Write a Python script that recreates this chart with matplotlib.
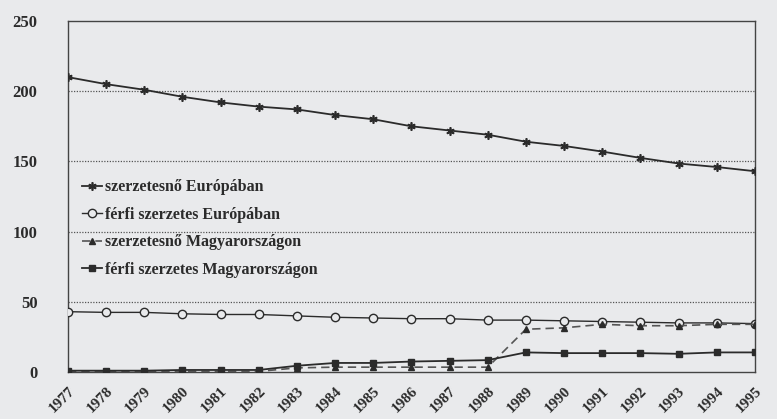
import numpy as np
import matplotlib
matplotlib.use("Agg")
import matplotlib.pyplot as plt

years = list(range(1977, 1996))
noi_eu = [210, 205, 201, 196, 192, 189, 187, 183, 180, 175, 172, 169, 164, 161, 157, 152.5, 148.5, 146, 143]
ferfi_eu = [43, 42.5, 42.5, 41.5, 41, 41, 40, 39, 38.5, 38, 38, 37, 37, 36.5, 36, 35.5, 35, 35, 34.5]
noi_hu = [0.5, 0.5, 0.5, 0.5, 0.5, 0.5, 3, 3.5, 3.5, 3.5, 3.5, 3.5, 30.5, 31.5, 34, 33, 33, 34, 34]
ferfi_hu = [1, 1, 1, 1.5, 1.5, 1.5, 4.5, 6.5, 6.5, 7.5, 8, 8.5, 14, 13.5, 13.5, 13.5, 13, 14, 14]
labels = ["szerzetesnő Európában", "férfi szerzetes Európában",
          "szerzetesnő Magyarországon", "férfi szerzetes Magyarországon"]

BG = "#e9eaec"
INK = "#2b2b2b"
plt.rcParams["font.family"] = ["Liberation Serif", "DejaVu Serif"]

fig = plt.figure(figsize=(7.77, 4.19), dpi=100, facecolor=BG)
ax = fig.add_axes([0.0875, 0.112, 0.884, 0.838])
ax.set_facecolor(BG)

x = np.arange(len(years))
ax.plot(x, noi_eu, color=INK, lw=1.3, marker=(6, 2, 0), ms=6, mew=1.2, label=labels[0], zorder=3)
ax.plot(x, ferfi_eu, color=INK, lw=1.0, marker="o", ms=6, mfc=BG, mec=INK, mew=1.0, label=labels[1], zorder=3)
ax.plot(x, noi_hu, color="#555555", lw=1.2, ls=(0, (5, 3)), marker="^", ms=5, mfc=INK, mec=INK, label=labels[2], zorder=3)
ax.plot(x, ferfi_hu, color=INK, lw=1.3, marker="s", ms=5, mfc=INK, mec=INK, label=labels[3], zorder=4)

ax.set_xlim(0, len(years) - 1)
ax.set_ylim(0, 250)
ax.set_yticks([0, 50, 100, 150, 200, 250])
ax.set_yticklabels(["0", "50", "100", "150", "200", "250"], fontsize=12, fontweight="bold", color=INK)
for yv in [50, 100, 150, 200]:
    ax.axhline(yv, color="#555555", lw=0.9, ls=(0, (1, 1.2)), zorder=1)
ax.tick_params(axis="both", length=0)
ax.tick_params(axis="y", pad=22)
ax.set_xticks(x)
ax.set_xticklabels([str(y) for y in years], rotation=45, ha="right", rotation_mode="anchor",
                   fontsize=11, fontweight="bold", color=INK)
ax.tick_params(axis="x", pad=9)
for sp in ax.spines.values():
    sp.set_color("#444444")
    sp.set_linewidth(1.0)

leg = ax.legend(loc="upper left", bbox_to_anchor=(0.0, 0.59), frameon=False, handlelength=1.2,
                handletextpad=0.2, labelspacing=0.72, prop={"size": 11.5, "weight": "bold"})
for t in leg.get_texts():
    t.set_color(INK)

fig.savefig("out.png", dpi=100, facecolor=BG)
